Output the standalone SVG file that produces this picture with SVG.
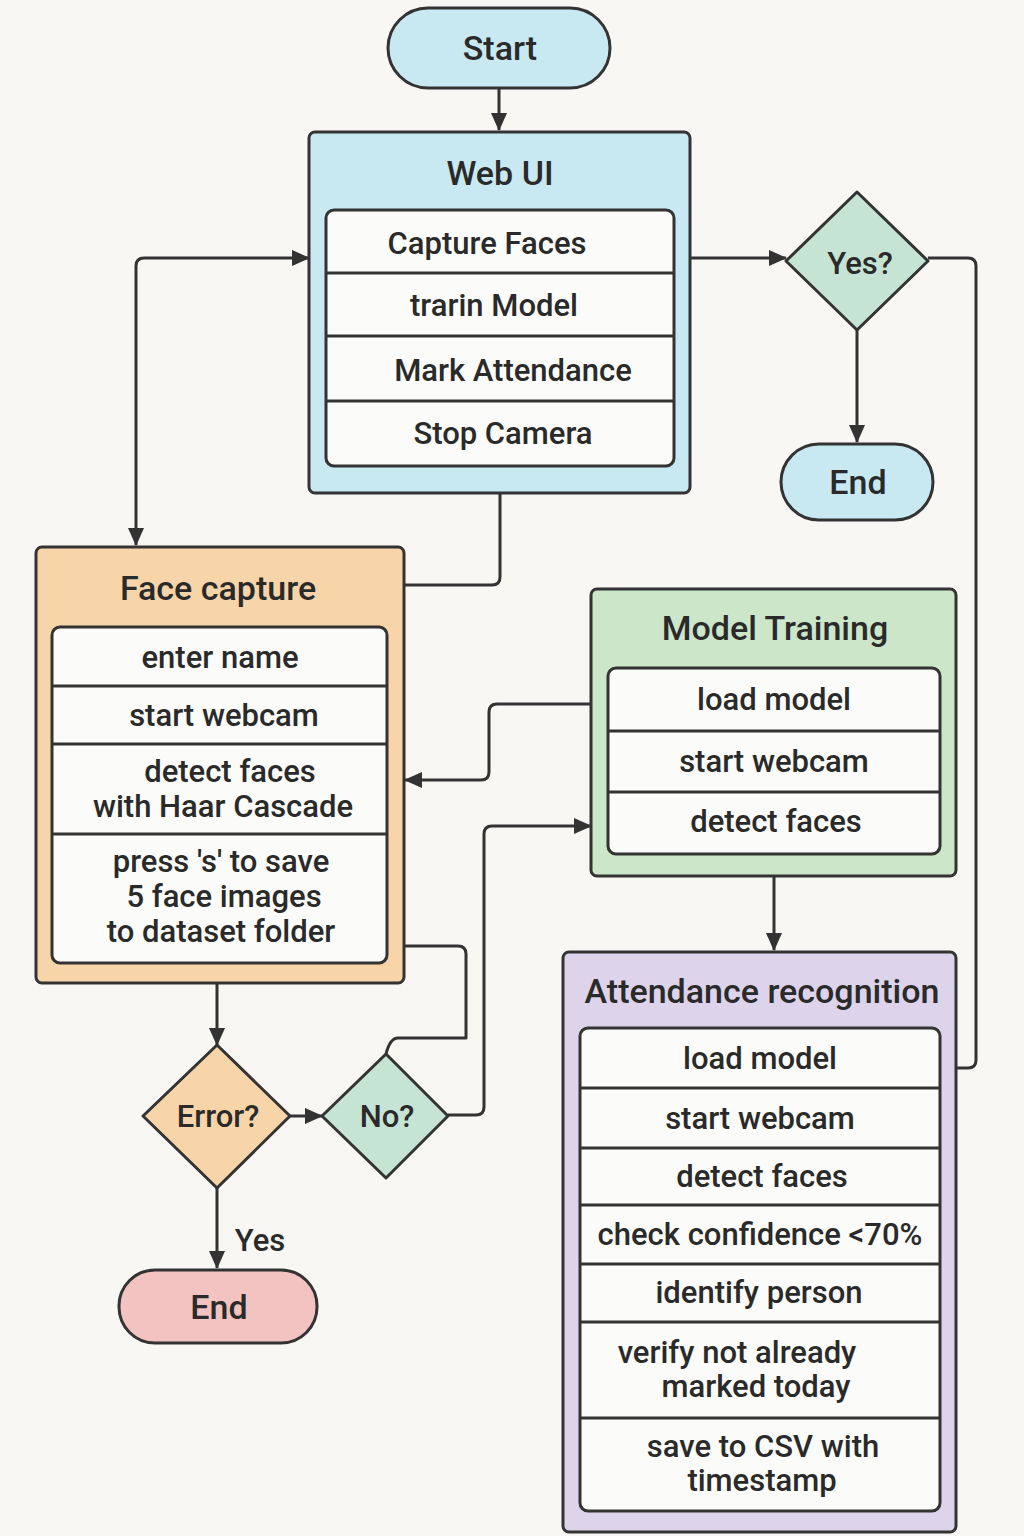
<svg xmlns="http://www.w3.org/2000/svg" width="1024" height="1536" viewBox="0 0 1024 1536">
<defs>
<marker id="ah" viewBox="0 0 18 16" refX="17" refY="8" markerWidth="18" markerHeight="16" markerUnits="userSpaceOnUse" orient="auto-start-reverse">
<path d="M0,0 L18,8 L0,16 Z" fill="#333"/>
</marker>
<style>
.bg{fill:#f8f7f4}
.box{stroke:#333;stroke-width:3}
.inner{fill:#fbfbf9;stroke:#333;stroke-width:3}
.div{stroke:#333;stroke-width:3}
.blue{fill:#c9e9f2}
.peach{fill:#f8d5a8}
.green{fill:#cce6c9}
.mint{fill:#c6e4d3}
.lav{fill:#ddd3ea}
.red{fill:#f2c3c0}
.conn{fill:none;stroke:#333;stroke-width:3;stroke-linejoin:round}
text{font-family:Roboto,"Open Sans","Liberation Sans",sans-serif;font-weight:500;fill:#2a2a2a;text-anchor:middle;dominant-baseline:central}
.t{font-size:34px}
.i{font-size:31px}
</style>
</defs>
<rect class="bg" x="0" y="0" width="1024" height="1536"/>

<g id="connectors">
<path class="conn" d="M499,88 L499,130" marker-end="url(#ah)"/>
<path class="conn" d="M136,545 L136,266 Q136,258 144,258 L309,258" marker-start="url(#ah)" marker-end="url(#ah)"/>
<path class="conn" d="M690,258 L786,258" marker-end="url(#ah)"/>
<path class="conn" d="M857,330 L857,442" marker-end="url(#ah)"/>
<path class="conn" d="M928,258 L968,258 Q976,258 976,266 L976,1060 Q976,1068 968,1068 L957,1068"/>
<path class="conn" d="M500,493 L500,577 Q500,585 492,585 L404,585"/>
<path class="conn" d="M591,704 L497,704 Q489,704 489,712 L489,772 Q489,780 481,780 L405,780" marker-end="url(#ah)"/>
<path class="conn" d="M448,1115 L476,1115 Q484,1115 484,1107 L484,834 Q484,826 492,826 L591,826" marker-end="url(#ah)"/>
<path class="conn" d="M404,946 L458,946 Q466,946 466,954 L466,1038 L398,1038 Q390,1038 386,1054"/>
<path class="conn" d="M217,983 L217,1045" marker-end="url(#ah)"/>
<path class="conn" d="M290,1116 L322,1116" marker-end="url(#ah)"/>
<path class="conn" d="M217,1188 L217,1268" marker-end="url(#ah)"/>
<path class="conn" d="M774,876 L774,950" marker-end="url(#ah)"/>
<text class="i" x="260" y="1240">Yes</text>
</g>

<g id="start">
<rect class="box blue" x="388" y="8" width="222" height="80" rx="40"/>
<text class="t" x="500" y="48">Start</text>
</g>

<g id="webui">
<rect class="box blue" x="309" y="132" width="381" height="361" rx="6"/>
<text class="t" x="500" y="173">Web UI</text>
<rect class="inner" x="326" y="210" width="348" height="256" rx="8"/>
<line class="div" x1="326" y1="273" x2="674" y2="273"/>
<line class="div" x1="326" y1="336" x2="674" y2="336"/>
<line class="div" x1="326" y1="401" x2="674" y2="401"/>
<text class="i" x="487" y="243">Capture Faces</text>
<text class="i" x="494" y="305">trarin Model</text>
<text class="i" x="513" y="370">Mark Attendance</text>
<text class="i" x="503" y="433">Stop Camera</text>
</g>

<g id="yes-decision">
<path class="box mint" d="M857,192 L928,261 L857,330 L786,261 Z" stroke-linejoin="round"/>
<text class="i" x="860" y="263">Yes?</text>
</g>

<g id="end-top">
<rect class="box blue" x="781" y="444" width="152" height="76" rx="38"/>
<text class="t" x="858" y="482">End</text>
</g>

<g id="face-capture">
<rect class="box peach" x="36" y="547" width="368" height="436" rx="6"/>
<text class="t" x="218" y="588">Face capture</text>
<rect class="inner" x="52" y="627" width="335" height="336" rx="8"/>
<line class="div" x1="52" y1="686" x2="387" y2="686"/>
<line class="div" x1="52" y1="744" x2="387" y2="744"/>
<line class="div" x1="52" y1="834" x2="387" y2="834"/>
<text class="i" x="220" y="657">enter name</text>
<text class="i" x="224" y="715">start webcam</text>
<text class="i" x="230" y="771">detect faces</text>
<text class="i" x="223" y="806">with Haar Cascade</text>
<text class="i" x="221" y="861">press 's' to save</text>
<text class="i" x="224" y="896">5 face images</text>
<text class="i" x="221" y="931">to dataset folder</text>
</g>

<g id="model-training">
<rect class="box green" x="591" y="589" width="365" height="287" rx="6"/>
<text class="t" x="775" y="628">Model Training</text>
<rect class="inner" x="608" y="668" width="332" height="186" rx="8"/>
<line class="div" x1="608" y1="731" x2="940" y2="731"/>
<line class="div" x1="608" y1="792" x2="940" y2="792"/>
<text class="i" x="774" y="699">load model</text>
<text class="i" x="774" y="761">start webcam</text>
<text class="i" x="776" y="821">detect faces</text>
</g>

<g id="error-decision">
<path class="box peach" d="M217,1045 L290,1116 L217,1188 L143,1116 Z" stroke-linejoin="round"/>
<text class="i" x="218" y="1116">Error?</text>
</g>

<g id="no-decision">
<path class="box mint" d="M386,1054 L448,1116 L386,1178 L322,1116 Z" stroke-linejoin="round"/>
<text class="i" x="387" y="1116">No?</text>
</g>

<g id="end-bottom">
<rect class="box red" x="119" y="1270" width="198" height="73" rx="36"/>
<text class="t" x="219" y="1307">End</text>
</g>

<g id="attendance">
<rect class="box lav" x="563" y="952" width="393" height="580" rx="6"/>
<text class="t" x="762" y="991">Attendance recognition</text>
<rect class="inner" x="580" y="1028" width="360" height="483" rx="8"/>
<line class="div" x1="580" y1="1088" x2="940" y2="1088"/>
<line class="div" x1="580" y1="1148" x2="940" y2="1148"/>
<line class="div" x1="580" y1="1205" x2="940" y2="1205"/>
<line class="div" x1="580" y1="1264" x2="940" y2="1264"/>
<line class="div" x1="580" y1="1322" x2="940" y2="1322"/>
<line class="div" x1="580" y1="1418" x2="940" y2="1418"/>
<text class="i" x="760" y="1058">load model</text>
<text class="i" x="760" y="1118">start webcam</text>
<text class="i" x="762" y="1176">detect faces</text>
<text class="i" x="760" y="1234">check confidence &lt;70%</text>
<text class="i" x="759" y="1292">identify person</text>
<text class="i" x="737" y="1352">verify not already</text>
<text class="i" x="756" y="1386">marked today</text>
<text class="i" x="763" y="1446">save to CSV with</text>
<text class="i" x="762" y="1480">timestamp</text>
</g>
</svg>
